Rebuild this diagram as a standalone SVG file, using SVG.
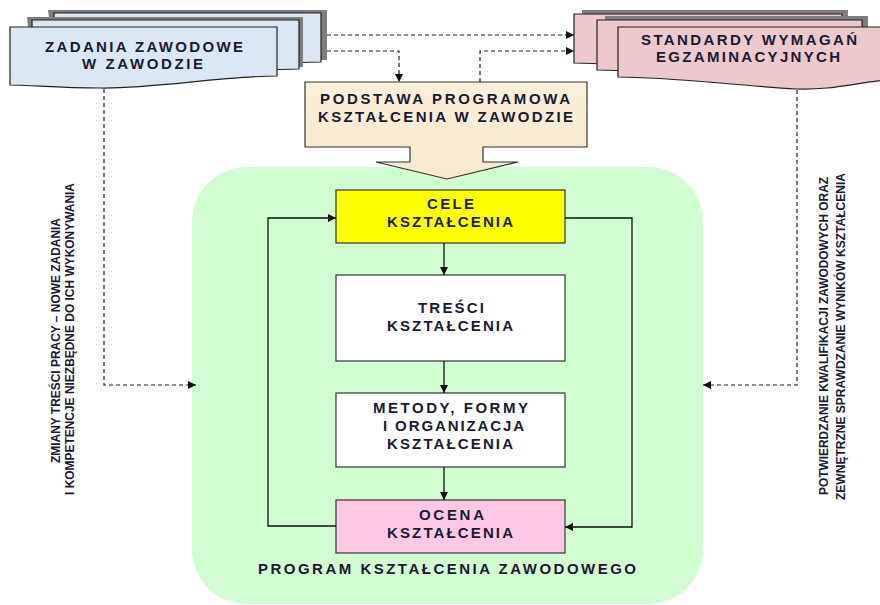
<svg xmlns="http://www.w3.org/2000/svg" width="880" height="605" viewBox="0 0 880 605">
<defs>
<marker id="ah" viewBox="0 0 10 10" refX="10" refY="5" markerWidth="8" markerHeight="8" markerUnits="userSpaceOnUse" orient="auto">
<path d="M0,0 L10,5 L0,10 Z" fill="#111"/>
</marker>
<linearGradient id="beige" x1="0" y1="0" x2="0" y2="1">
<stop offset="0" stop-color="#fbf0dc"/>
<stop offset="1" stop-color="#f7e8cf"/>
</linearGradient>
</defs>
<style>
.t{font-family:"Liberation Sans",Arial,sans-serif;font-weight:bold;fill:#1a1a32;text-anchor:middle}
.b{font-size:15px}
.s{font-size:13px}
.box{stroke:#333;stroke-width:1.2}
.docL{fill:#dce7f4;stroke:#222;stroke-width:1.2}
.docR{fill:#ebc9cc;stroke:#222;stroke-width:1.2}
.sh{fill:#7e7e7e}
.dash{fill:none;stroke:#222;stroke-width:1.2;stroke-dasharray:4 3}
.solid{fill:none;stroke:#111;stroke-width:1.3}
</style>

<rect id="program" x="192" y="167" width="511" height="437" rx="55" ry="55" fill="#d2fcd2"/>

<g id="zadania">
<path class="sh" d="M48,10 H327 V60 L54,60 Z"/>
<path class="docL" d="M54,13 H321 V62 C266,62 196,75 144,74 C104,74 74,71 54,71 Z"/>
<path class="sh" d="M27,17 H303 V67 L32,67 Z"/>
<path class="docL" d="M32,20 H299 V69 C244,69 174,82 122,81 C82,81 52,78 32,78 Z"/>
<path class="docL" d="M10,27 H277 V76 C222,76 152,89 100,88 C60,88 30,85 10,85 Z"/>
<text class="t b" x="144" y="52" textLength="198">ZADANIA ZAWODOWE</text>
<text class="t b" x="142.5" y="69" textLength="121">W ZAWODZIE</text>
</g>

<g id="standardy">
<path class="sh" d="M582,10 H848 V58 L582,58 Z"/>
<path class="docR" d="M574,14 H842 V66 C800,70 780,76 753,75 C686,71 626,63 574,63 Z"/>
<path class="sh" d="M605,16 H868 V66 L605,66 Z"/>
<path class="docR" d="M597,20 H862 V73 C830,77 810,83 776,82 C709,78 649,70 597,70 Z"/>
<path class="docR" d="M618,27 H886 V80 C850,84 830,90 797,89 C730,85 670,77 618,77 Z"/>
<text class="t b" x="749" y="45" textLength="216">STANDARDY WYMAGAŃ</text>
<text class="t b" x="748" y="62" textLength="184">EGZAMINACYJNYCH</text>
</g>

<g id="podstawa">
<path d="M305,82 H587 V147 H483 V162 H518 L447,179 L376,162 H410 V147 H305 Z" fill="url(#beige)" stroke="#333" stroke-width="1.2"/>
<text class="t b" x="445" y="104" textLength="250">PODSTAWA PROGRAMOWA</text>
<text class="t b" x="445.5" y="122" textLength="255">KSZTAŁCENIA W ZAWODZIE</text>
</g>

<g id="cele">
<rect class="box" x="336" y="190" width="229" height="53" fill="#ffff00"/>
<text class="t b" x="450.5" y="209" textLength="47">CELE</text>
<text class="t b" x="450" y="227" textLength="126">KSZTAŁCENIA</text>
</g>

<g id="tresci">
<rect class="box" x="336" y="275" width="229" height="86" fill="#ffffff"/>
<text class="t b" x="451" y="313" textLength="66">TREŚCI</text>
<text class="t b" x="450" y="331" textLength="126">KSZTAŁCENIA</text>
</g>

<g id="metody">
<rect class="box" x="336" y="393" width="229" height="74" fill="#ffffff"/>
<text class="t b" x="450.5" y="413" textLength="155">METODY, FORMY</text>
<text class="t b" x="453.5" y="431" textLength="141">I ORGANIZACJA</text>
<text class="t b" x="450" y="449" textLength="126">KSZTAŁCENIA</text>
</g>

<g id="ocena">
<rect class="box" x="336" y="500" width="229" height="53" fill="#ffc8e4"/>
<text class="t b" x="451.5" y="520" textLength="65">OCENA</text>
<text class="t b" x="450" y="538" textLength="126">KSZTAŁCENIA</text>
</g>

<g id="program-label">
<text class="t b" x="447" y="574" textLength="378">PROGRAM KSZTAŁCENIA ZAWODOWEGO</text>
</g>

<g id="label-left">
<text class="t s" transform="translate(60,340.5) rotate(-90)" textLength="245" lengthAdjust="spacingAndGlyphs">ZMIANY TREŚCI PRACY – NOWE ZADANIA</text>
<text class="t s" transform="translate(74,339) rotate(-90)" textLength="312" lengthAdjust="spacingAndGlyphs">I KOMPETENCJE NIEZBĘDNE DO ICH WYKONYWANIA</text>
</g>

<g id="label-right">
<text class="t s" transform="translate(828,336) rotate(-90)" textLength="318" lengthAdjust="spacingAndGlyphs">POTWIERDZANIE KWALIFIKACJI ZAWODOWYCH ORAZ</text>
<text class="t s" transform="translate(845,336.5) rotate(-90)" textLength="327" lengthAdjust="spacingAndGlyphs">ZEWNĘTRZNE SPRAWDZANIE WYNIKÓW KSZTAŁCENIA</text>
</g>

<g id="connectors">
<path class="dash" d="M327,35 H574" marker-end="url(#ah)"/>
<path class="dash" d="M327,51 H399 V82" marker-end="url(#ah)"/>
<path class="dash" d="M480,82 V51 H574" marker-end="url(#ah)"/>
<path class="dash" d="M104,89 V385 H196" marker-end="url(#ah)"/>
<path class="dash" d="M797,90 V385 H703" marker-end="url(#ah)"/>
<path class="solid" d="M444,243 V275" marker-end="url(#ah)"/>
<path class="solid" d="M444,361 V393" marker-end="url(#ah)"/>
<path class="solid" d="M444,467 V500" marker-end="url(#ah)"/>
<path class="solid" d="M336,526 H268 V218 H336" marker-end="url(#ah)"/>
<path class="solid" d="M565,218 H632 V527 H565" marker-end="url(#ah)"/>
</g>
</svg>
